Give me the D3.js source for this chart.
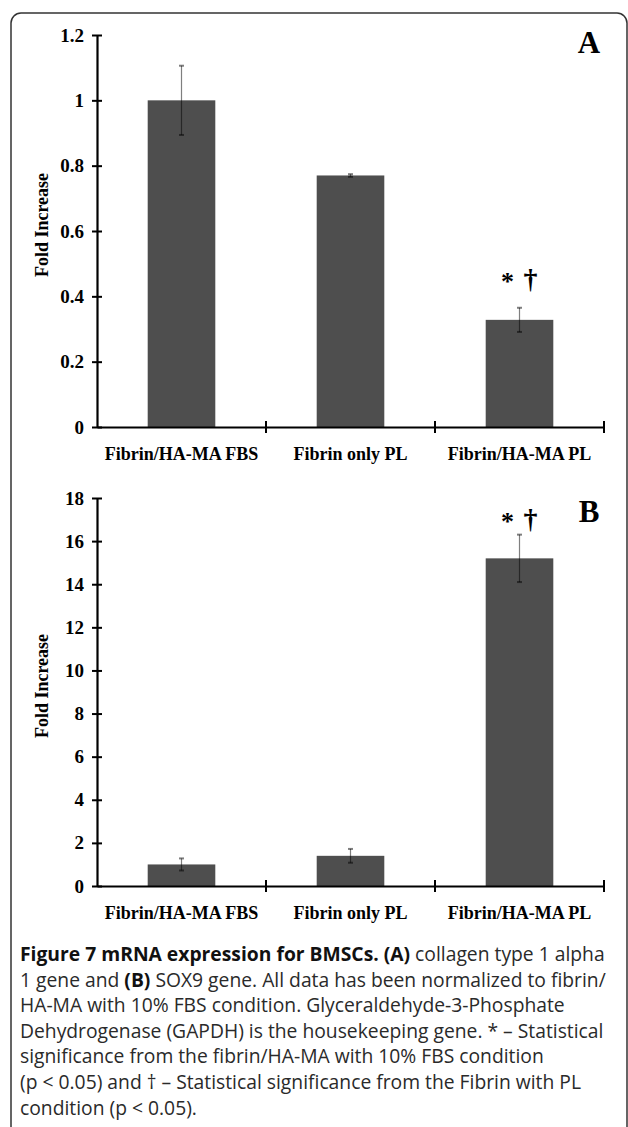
<!DOCTYPE html>
<html>
<head>
<meta charset="utf-8">
<script src="https://cdn.jsdelivr.net/npm/d3@7"></script>
<style>
  body { margin: 0; background: #fff; }
  svg { display: block; }
</style>
</head>
<body>
<div id="chart"></div>
<script>
// data
const categories = ["Fibrin/HA-MA FBS", "Fibrin only PL", "Fibrin/HA-MA PL"];
const valuesA = [1.0, 0.77, 0.328];
const errorsA = [0.106, 0.004, 0.037];
const valuesB = [1.0, 1.4, 15.2];
const errorsB = [0.28, 0.32, 1.1];
const yTicksA = [0, 0.2, 0.4, 0.6, 0.8, 1, 1.2];
const yTicksB = [0, 2, 4, 6, 8, 10, 12, 14, 16, 18];
const sigMarksA = ["", "", "* †"];
const sigMarksB = ["", "", "* †"];

const captionLines = [
    [["Figure 7 mRNA expression for BMSCs. (A)", true], [" collagen type 1 alpha", false]],
    [["1 gene and ", false], ["(B)", true], [" SOX9 gene. All data has been normalized to fibrin/", false]],
    [["HA-MA with 10% FBS condition. Glyceraldehyde-3-Phosphate", false]],
    [["Dehydrogenase (GAPDH) is the housekeeping gene. * \u2013 Statistical", false]],
    [["significance from the fibrin/HA-MA with 10% FBS condition", false]],
    [["(p < 0.05) and \u2020 \u2013 Statistical significance from the Fibrin with PL", false]],
    [["condition (p < 0.05).", false]]
];

const width = 628;
const height = 1127;
const barColor = "#4e4e4e";
const serif = "'Liberation Serif', 'Times New Roman', serif";

const svg = d3.select("#chart")
    .append("svg")
    .attr("width", width)
    .attr("height", height);

// rounded frame (runs off the bottom edge)
svg.append("rect")
    .attr("x", 11)
    .attr("y", 13)
    .attr("width", 616)
    .attr("height", 1140)
    .attr("rx", 10)
    .attr("fill", "none")
    .attr("stroke", "#333")
    .attr("stroke-width", 1.5);

function drawPanel(cfg) {
    const x = d3.scaleBand()
        .domain(categories)
        .range([97, 604])
        .paddingInner(0.6)
        .paddingOuter(0.3);

    const y = d3.scaleLinear()
        .domain([0, cfg.ticks[cfg.ticks.length - 1]])
        .range([cfg.bottom, cfg.top]);

    const g = svg.append("g");

    // bars
    g.selectAll("rect.bar")
        .data(cfg.values)
        .join("rect")
        .attr("class", "bar")
        .attr("x", (d, i) => x(categories[i]))
        .attr("y", d => y(d))
        .attr("width", x.bandwidth())
        .attr("height", d => y(0) - y(d))
        .attr("fill", barColor);

    // error bars
    const eb = g.selectAll("g.err")
        .data(cfg.values.map((v, i) => ({ v, e: cfg.errors[i], c: categories[i] })))
        .join("g")
        .attr("class", "err")
        .attr("stroke", "#000")
        .attr("stroke-opacity", 0.5)
        .attr("stroke-width", 1.2);
    eb.append("line")
        .attr("x1", d => x(d.c) + x.bandwidth() / 2)
        .attr("x2", d => x(d.c) + x.bandwidth() / 2)
        .attr("y1", d => y(d.v + d.e))
        .attr("y2", d => y(d.v - d.e));
    eb.append("line")
        .attr("x1", d => x(d.c) + x.bandwidth() / 2 - 2.5)
        .attr("x2", d => x(d.c) + x.bandwidth() / 2 + 2.5)
        .attr("y1", d => y(d.v + d.e))
        .attr("y2", d => y(d.v + d.e))
        .attr("stroke-width", 2);
    eb.append("line")
        .attr("x1", d => x(d.c) + x.bandwidth() / 2 - 2.5)
        .attr("x2", d => x(d.c) + x.bandwidth() / 2 + 2.5)
        .attr("y1", d => y(d.v - d.e))
        .attr("y2", d => y(d.v - d.e))
        .attr("stroke-width", 2);

    // significance marks
    cfg.sig.forEach((s, i) => {
        if (!s) return;
        const cx = x(categories[i]) + x.bandwidth() / 2;
        const top = y(cfg.values[i] + cfg.errors[i]);
        g.append("text")
            .attr("x", cx - 12)
            .attr("y", top - cfg.sigOffset + 17)
            .attr("text-anchor", "middle")
            .attr("font-family", serif)
            .attr("font-weight", "bold")
            .attr("font-size", 26)
            .text("*");
        g.append("text")
            .attr("x", cx + 11)
            .attr("y", top - cfg.sigOffset + 15)
            .attr("text-anchor", "middle")
            .attr("font-family", serif)
            .attr("font-weight", "bold")
            .attr("font-size", 28)
            .text("\u2020");
    });

    // y axis
    const yAxis = d3.axisLeft(y)
        .tickValues(cfg.ticks)
        .tickFormat(d => String(d))
        .tickSizeInner(5)
        .tickSizeOuter(0)
        .tickPadding(8);
    g.append("g")
        .attr("transform", `translate(${97},0)`)
        .call(yAxis)
        .call(a => a.select(".domain").attr("stroke-width", 2.2))
        .call(a => a.selectAll(".tick line").attr("x2", 5).attr("x1", -5).attr("stroke-width", 2))
        .call(a => a.selectAll(".tick text")
            .attr("font-family", serif)
            .attr("font-weight", "bold")
            .attr("font-size", 19)
            .attr("fill", "#000"));

    // x axis (labels at band centres, tick marks at band edges)
    const xAxis = d3.axisBottom(x).tickSize(0).tickPadding(20);
    g.append("g")
        .attr("transform", `translate(0,${cfg.bottom})`)
        .call(xAxis)
        .call(a => a.select(".domain").attr("stroke-width", 2.2))
        .call(a => a.selectAll(".tick text")
            .attr("font-family", serif)
            .attr("font-weight", "bold")
            .attr("font-size", 18)
            .attr("fill", "#000"));
    const edges = d3.range(1, categories.length + 1).map(i => x.range()[0] + i * x.step());
    g.selectAll("line.edge")
        .data(edges)
        .join("line")
        .attr("class", "edge")
        .attr("x1", d => d)
        .attr("x2", d => d)
        .attr("y1", cfg.bottom - 6)
        .attr("y2", cfg.bottom + 6)
        .attr("stroke", "#000")
        .attr("stroke-width", 2);

    // y title
    g.append("text")
        .attr("transform", `translate(${48},${(cfg.top + cfg.bottom) / 2 - 6}) rotate(-90)`)
        .attr("text-anchor", "middle")
        .attr("font-family", serif)
        .attr("font-weight", "bold")
        .attr("font-size", 18)
        .text("Fold Increase");

    // panel letter
    g.append("text")
        .attr("x", 589)
        .attr("y", cfg.letterY)
        .attr("text-anchor", "middle")
        .attr("font-family", serif)
        .attr("font-weight", "bold")
        .attr("font-size", 31)
        .text(cfg.letter);
}

drawPanel({ values: valuesA, errors: errorsA, ticks: yTicksA, sig: sigMarksA, top: 35, bottom: 427, letter: "A", letterY: 53, sigOffset: 35 });
drawPanel({ values: valuesB, errors: errorsB, ticks: yTicksB, sig: sigMarksB, top: 498, bottom: 886, letter: "B", letterY: 522, sigOffset: 22 });

// caption
const cap = svg.append("text")
    .attr("font-family", "'Open Sans', sans-serif")
    .attr("font-size", 19.3)
    .attr("fill", "#2a2a2a");
captionLines.forEach((line, li) => {
    line.forEach((seg, si) => {
        const t = cap.append("tspan")
            .attr("font-weight", seg[1] ? "bold" : "normal")
            .attr("fill", seg[1] ? "#111" : null)
            .text(seg[0]);
        if (si === 0) t.attr("x", 20).attr("y", 961 + li * 25.6);
    });
});
</script>
</body>
</html>
